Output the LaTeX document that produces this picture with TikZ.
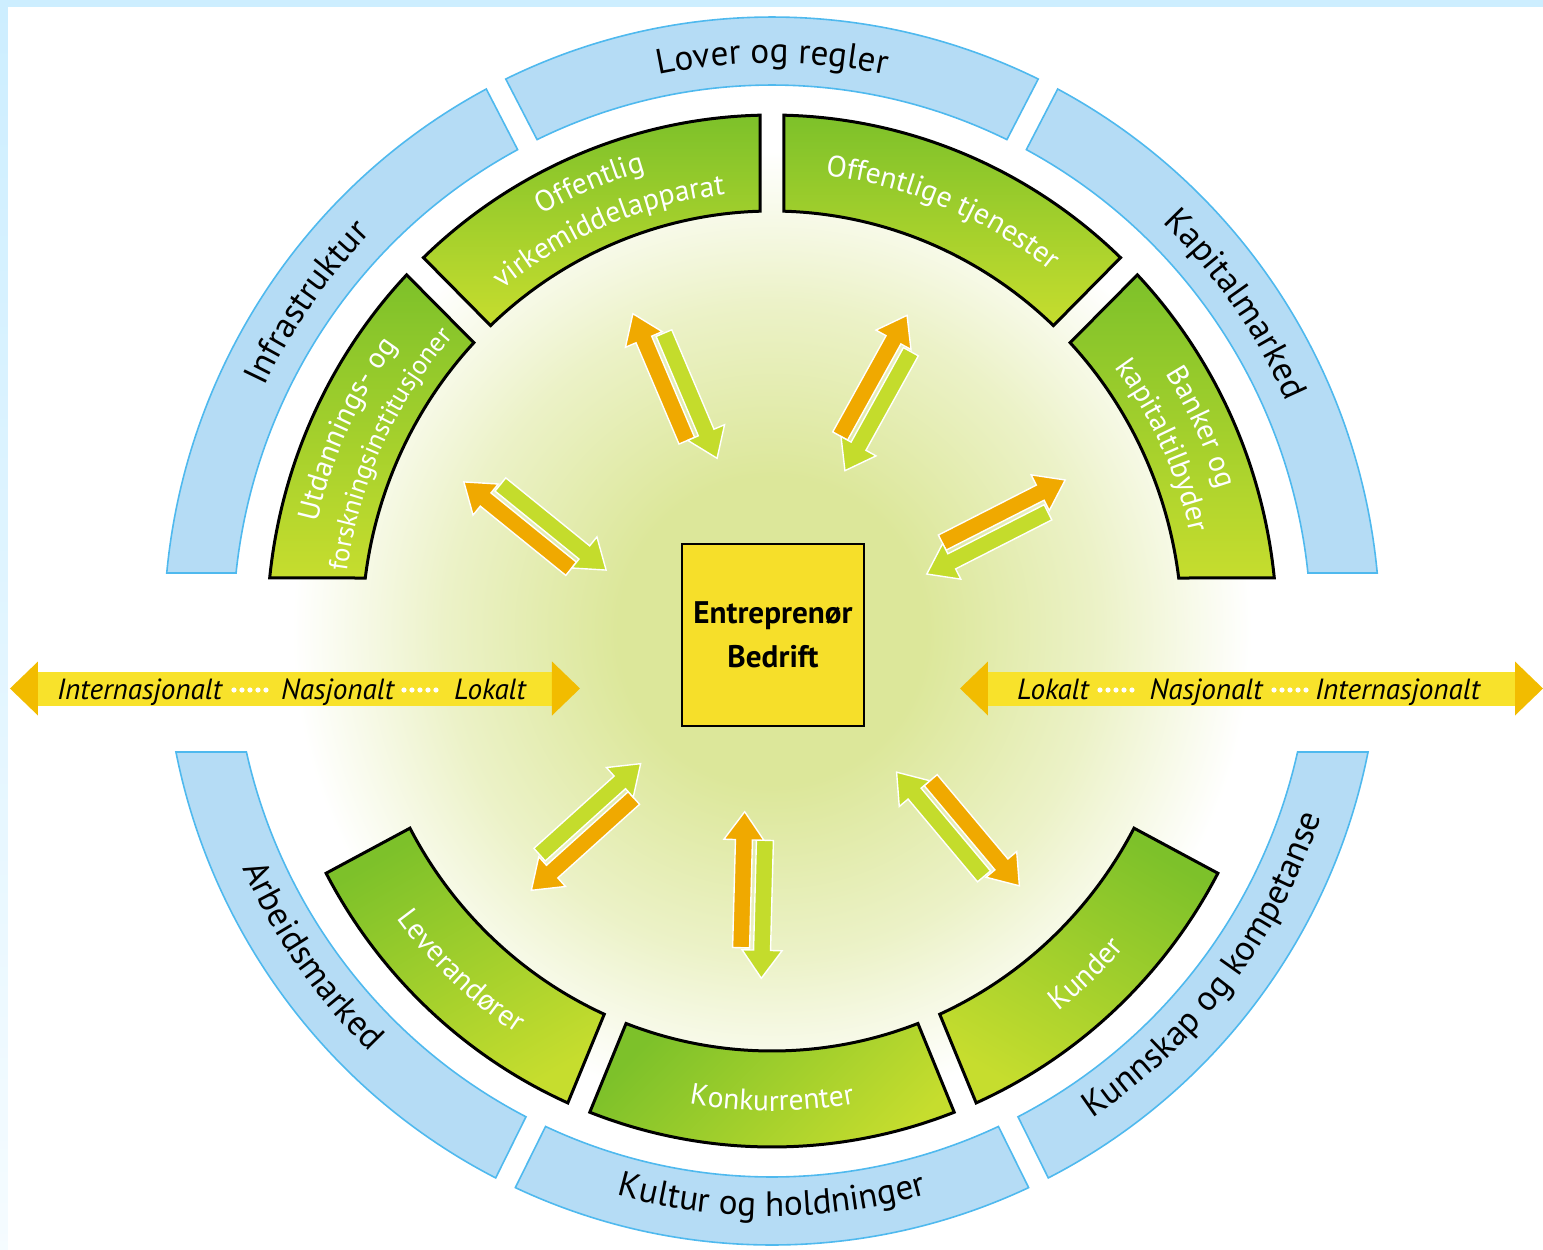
\documentclass[tikz,border=0pt]{standalone}
\usepackage{fontspec}
\setmainfont{PT Sans}
\usetikzlibrary{decorations.text}

\definecolor{framebg}{HTML}{CDEEFF}
\definecolor{ringblue}{HTML}{B5DCF5}
\definecolor{ringedge}{HTML}{4FB9EE}
\definecolor{segdark}{HTML}{7DC12A}
\definecolor{seglight}{HTML}{C6DD2E}
\definecolor{halocore}{HTML}{DCE79A}
\definecolor{boxyellow}{HTML}{F6DF2A}
\definecolor{bandyellow}{HTML}{F8E22B}
\definecolor{bandhead}{HTML}{F2BC00}
\definecolor{arroworange}{HTML}{F0A900}
\definecolor{arrowgreen}{HTML}{C4DC2C}

\pgfdeclareradialshading{halo}{\pgfpoint{0bp}{0bp}}{color(0bp)=(halocore); color(8bp)=(halocore); color(17bp)=(halocore!55!white); color(25bp)=(white); color(50bp)=(white)}

\newcommand{\bluefont}{\fontsize{17.6}{20}\selectfont}
\newcommand{\greenfont}{\fontsize{14.8}{17}\selectfont}
\newcommand{\smallgreenfont}{\fontsize{13.4}{16}\selectfont}

% outer start, outer end, inner start, inner end
\newcommand{\bluesegment}[4]{%
  \draw[bluering] (#1:608 and 614) arc[start angle=#1, end angle=#2, x radius=608, y radius=614]
    -- (#4:539 and 546) arc[start angle=#4, end angle=#3, x radius=539, y radius=546] -- cycle;}
\newcommand{\greensegment}[5][]{%
  \draw[greenring,#1] (#2:505 and 516) arc[start angle=#2, end angle=#3, x radius=505, y radius=516]
    -- (#5:410 and 420) arc[start angle=#5, end angle=#4, x radius=410, y radius=420] -- cycle;}

% colour, start, end, x radius, y radius, text
\newcommand{\curvedlabel}[6][black]{%
  \path[decorate, decoration={text along path, text align=center, text color=#1, text={#6}}]
    (#2:#4 and #5) arc[start angle=#2, end angle=#3, x radius=#4, y radius=#5];}

% axis angle, middle x, middle y, outward colour, inward colour
\newcommand{\arrowpair}[5]{%
  \begin{scope}[shift={(#2,#3)}, rotate=#1]
    \filldraw[fill=#4, arrowedge] (-55,2) -- (55,2) -- (55,-9.5) -- (83,10.5) -- (55,30.5) -- (55,19) -- (-55,19) -- cycle;
    \filldraw[fill=#5, arrowedge] (53,-2) -- (-55,-2) -- (-55,9.5) -- (-83,-10.5) -- (-55,-30.5) -- (-55,-19) -- (53,-19) -- cycle;
  \end{scope}}

% left tip, right tip
\newcommand{\yellowband}[2]{%
  \fill[bandyellow] (#1+26,-74.5) rectangle (#2-26,-40.5);
  \fill[bandhead] (#1+28,-84.5) -- (#1,-57.5) -- (#1+28,-30.5) -- cycle;
  \fill[bandhead] (#2-28,-84.5) -- (#2,-57.5) -- (#2-28,-30.5) -- cycle;}

\begin{document}
\begin{tikzpicture}[x=0.5pt, y=0.5pt,
  bluering/.style={fill=ringblue, draw=ringedge, line width=0.8pt},
  greenring/.style={top color=segdark, bottom color=seglight, draw=black, line width=1.5pt},
  bandtext/.style={font=\itshape\fontsize{14.6}{16}\selectfont, anchor=base, inner sep=0pt},
  centerbox/.style={draw=black, line width=1.4pt, fill=boxyellow, minimum width=91pt, minimum height=91pt,
    inner sep=0pt, align=center, font=\bfseries\fontsize{15.6}{22}\selectfont},
  arrowedge/.style={draw=white, line width=0.7pt}]

\useasboundingbox (-772,-618) rectangle (771,631);

% Frame
\fill[framebg] (-772,624) rectangle (771,631);
\shade[top color=framebg, bottom color=framebg!20] (-772,-618) rectangle (-764,624);

% Glow round the firm
\shade[shading=halo] (0,0) circle (480);

% Outer ring
\bluesegment{5.42}{61.97}{6.1}{61.84}
\bluesegment{64.03}{115.97}{64.16}{115.84}
\bluesegment{118.03}{174.58}{118.16}{173.9}
\bluesegment{191.37}{242.97}{192.8}{242.84}
\bluesegment{245.03}{294.97}{245.16}{294.84}
\bluesegment{297.03}{348.63}{297.16}{347.2}

% Inner ring
\greensegment{5.9}{43.65}{7.25}{43.35}
\greensegment{46.35}{88.65}{46.65}{88.35}
\greensegment{91.35}{133.65}{91.65}{133.35}
\greensegment{136.35}{174.1}{136.65}{172.75}
\greensegment[shading angle=30]{208}{246.15}{208}{245.85}
\greensegment[shading angle=45]{248.85}{291.15}{249.15}{290.85}
\greensegment[shading angle=-30]{293.85}{332}{294.15}{332}

% Outer ring labels
\curvedlabel{120}{60}{562}{568}{|\bluefont|Lover og regler}
\curvedlabel{175}{115}{562}{568}{|\bluefont|Infrastruktur}
\curvedlabel{65}{5}{562}{568}{|\bluefont|Kapitalmarked}
\curvedlabel{185}{245}{579}{585}{|\bluefont|Arbeidsmarked}
\curvedlabel{240}{300}{579}{585}{|\bluefont|Kultur og holdninger}
\curvedlabel{292}{353}{579}{585}{|\bluefont|Kunnskap og kompetanse}

% Inner ring labels
\curvedlabel[white]{185}{125}{467}{478}{|\greenfont|Utdannings- og}
\curvedlabel[white]{185}{125}{429}{439}{|\smallgreenfont|forskningsinstitusjoner}
\curvedlabel[white]{142}{83}{467}{478}{|\greenfont|Offentlig}
\curvedlabel[white]{142}{83}{429}{439}{|\greenfont|virkemiddelapparat}
\curvedlabel[white]{97}{38}{449}{459}{|\greenfont|Offentlige tjenester}
\curvedlabel[white]{55}{-5}{467}{478}{|\greenfont|Banker og}
\curvedlabel[white]{55}{-5}{429}{439}{|\greenfont|kapitaltilbyder}
\curvedlabel[white]{197}{257}{469}{480}{|\greenfont|Leverandører}
\curvedlabel[white]{240}{300}{469}{480}{|\greenfont|Konkurrenter}
\curvedlabel[white]{283}{343}{469}{480}{|\greenfont|Kunder}

% Two-way arrows
\arrowpair{113}{-97}{245}{arroworange}{arrowgreen}
\arrowpair{61}{104}{238}{arroworange}{arrowgreen}
\arrowpair{27}{224}{104}{arroworange}{arrowgreen}
\arrowpair{141}{-237}{105}{arroworange}{arrowgreen}
\arrowpair{222}{-186}{-196}{arroworange}{arrowgreen}
\arrowpair{268.5}{-19}{-264}{arrowgreen}{arroworange}
\arrowpair{310}{186}{-198}{arroworange}{arrowgreen}

% The firm
\node[centerbox] (bedrift) at (1,-4) {Entreprenør\\Bedrift};

% Local to international
\yellowband{-762}{-192}
\yellowband{188}{771}
\node[bandtext] (intl-w) at (-632.5,-68) {Internasjonalt};
\node[bandtext] (nasj-w) at (-434.5,-68) {Nasjonalt};
\node[bandtext] (lok-w) at (-282,-68) {Lokalt};
\node[bandtext] (lok-e) at (281,-68) {Lokalt};
\node[bandtext] (nasj-e) at (434,-68) {Nasjonalt};
\node[bandtext] (intl-e) at (625.5,-68) {Internasjonalt};
\foreach \x in {-538,-530,...,-506, -368,-360,...,-336, 328,336,...,360, 502,510,...,534}
  \fill[white] (\x,-59) circle (2.6);

\end{tikzpicture}
\end{document}
